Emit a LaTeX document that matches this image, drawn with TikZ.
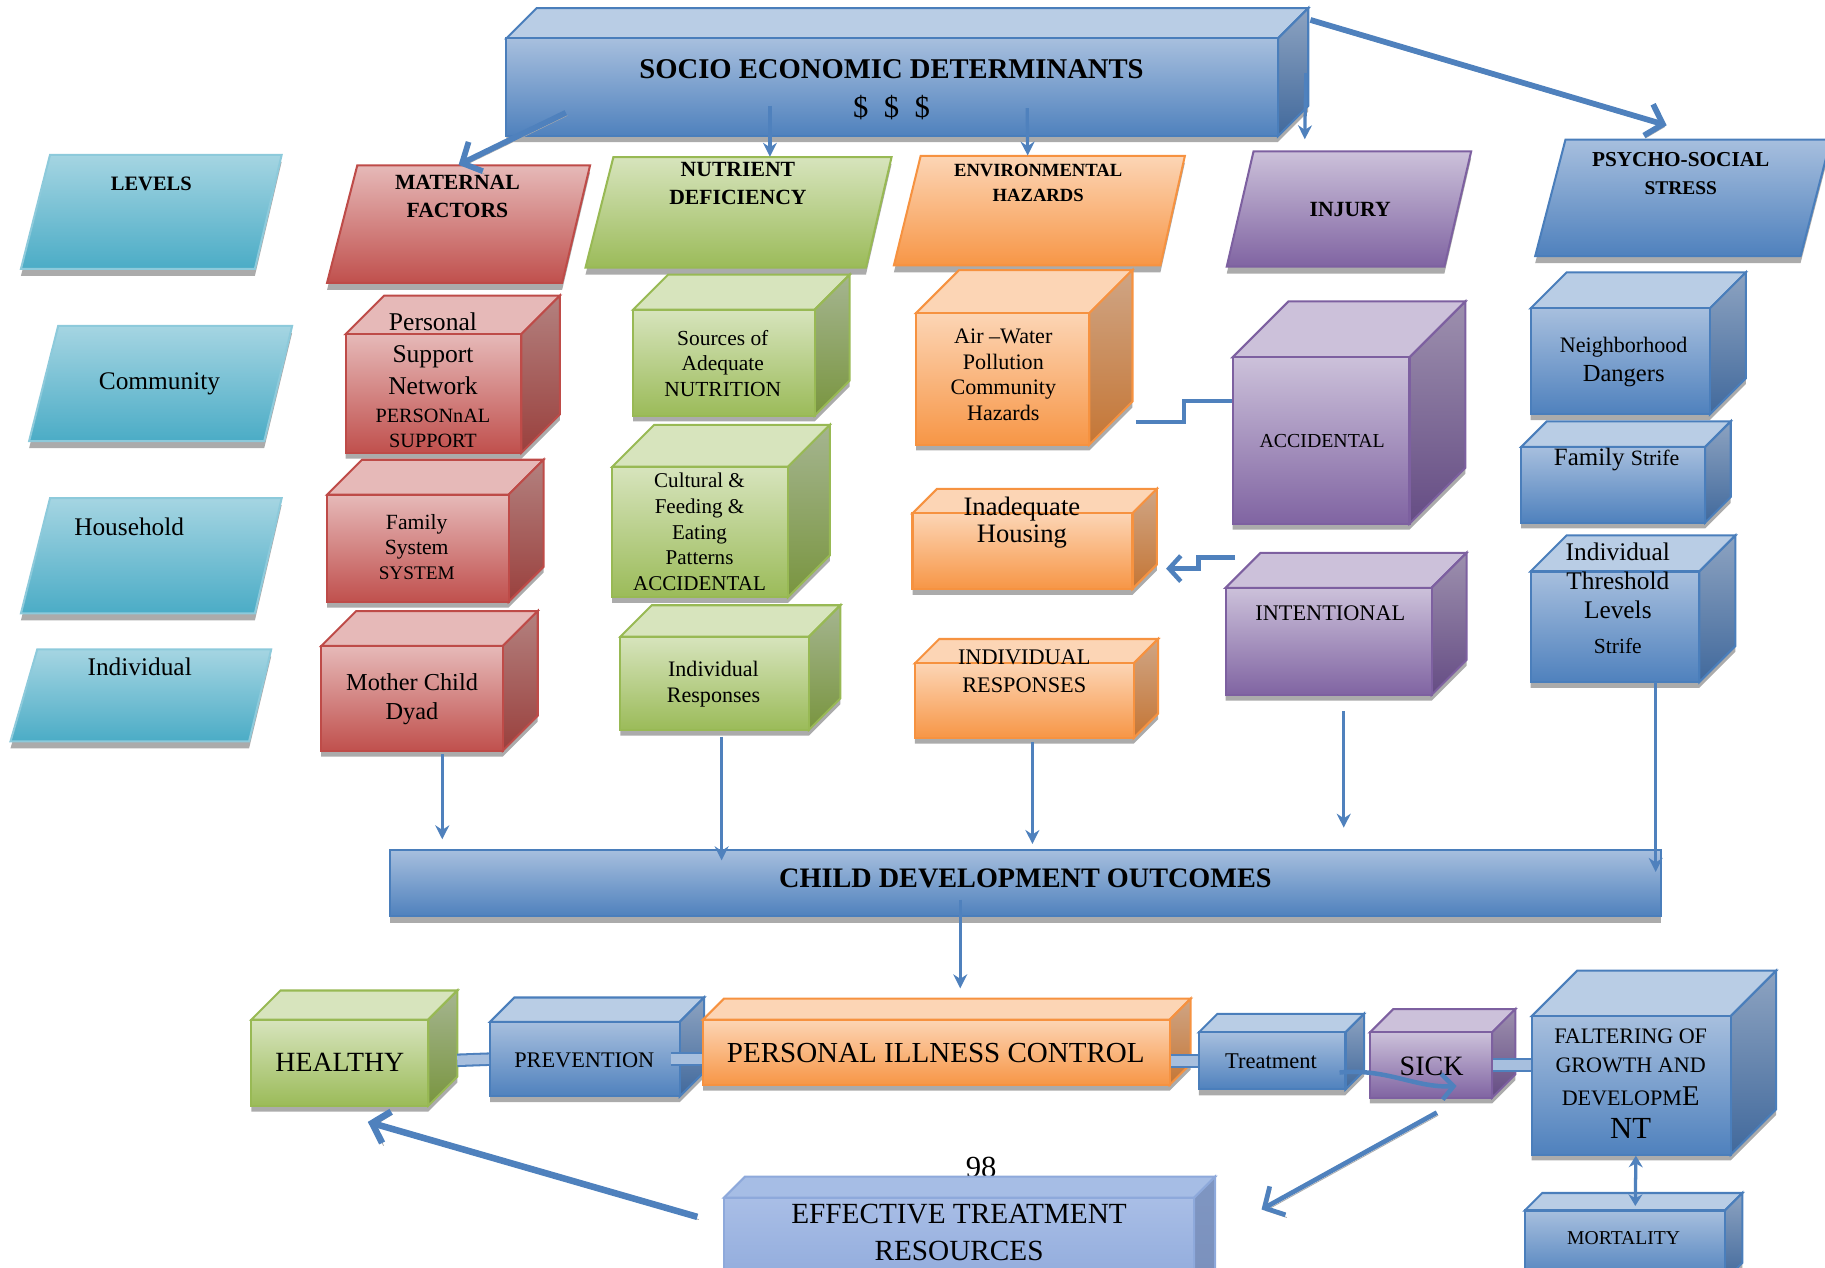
\documentclass[tikz,border=0pt]{standalone}
\usepackage{fontspec}
\setmainfont{Liberation Serif}
\usetikzlibrary{calc,fit,arrows.meta}

\newcommand{\fsz}[2]{\fontsize{#1}{#2}\selectfont}

% colour sets: A front top, B front bottom, T top face, S/R side face, L outline
\definecolor{blueA}{HTML}{A7BFDE}
\definecolor{blueB}{HTML}{4F81BD}
\definecolor{blueT}{HTML}{B9CDE5}
\definecolor{blueS}{HTML}{8DA3C1}
\definecolor{blueR}{HTML}{41699C}
\definecolor{blueL}{HTML}{4A7EBB}
\definecolor{redA}{HTML}{E6B9B8}
\definecolor{redB}{HTML}{C0504D}
\definecolor{redT}{HTML}{E6B9B8}
\definecolor{redS}{HTML}{B3817F}
\definecolor{redR}{HTML}{9A403D}
\definecolor{redL}{HTML}{BE4B48}
\definecolor{greenA}{HTML}{D7E4BD}
\definecolor{greenB}{HTML}{9BBB59}
\definecolor{greenT}{HTML}{D7E4BD}
\definecolor{greenS}{HTML}{A5B590}
\definecolor{greenR}{HTML}{79953F}
\definecolor{greenL}{HTML}{98B954}
\definecolor{orangeA}{HTML}{FCD5B5}
\definecolor{orangeB}{HTML}{F79646}
\definecolor{orangeT}{HTML}{FCD5B5}
\definecolor{orangeS}{HTML}{CFA585}
\definecolor{orangeR}{HTML}{C57635}
\definecolor{orangeL}{HTML}{F69240}
\definecolor{purpleA}{HTML}{CCC1DA}
\definecolor{purpleB}{HTML}{8064A2}
\definecolor{purpleT}{HTML}{CCC1DA}
\definecolor{purpleS}{HTML}{9D90AE}
\definecolor{purpleR}{HTML}{654C84}
\definecolor{purpleL}{HTML}{7D60A0}
\definecolor{cyanA}{HTML}{A5D5E2}
\definecolor{cyanB}{HTML}{4BACC6}
\definecolor{cyanL}{HTML}{8DCADB}
\definecolor{lavA}{HTML}{A9BEE6}
\definecolor{lavB}{HTML}{8EA9DB}
\definecolor{lavT}{HTML}{A6BDE5}
\definecolor{lavS}{HTML}{7F96C2}
\definecolor{lavR}{HTML}{7A90BC}
\definecolor{lavL}{HTML}{8EA9DB}
\colorlet{dropgray}{black!33}

% 3d box: name, left, top, right, bottom, depth, colour set
\newcommand{\boxcube}[7]{%
  \fill[dropgray] (#2,#5+5) -- (#2,#3+5) -- (#2+#6,#3-#6+5) -- (#4+#6,#3-#6+5) -- (#4+#6,#5-#6+5) -- (#4,#5+5) -- cycle;
  \path[fill=#7T, draw=#7L, line width=1pt] (#2,#3) -- (#2+#6,#3-#6) -- (#4+#6,#3-#6) -- (#4,#3) -- cycle;
  \path[top color=#7S, bottom color=#7R, draw=#7L, line width=1pt] (#4,#3) -- (#4+#6,#3-#6) -- (#4+#6,#5-#6) -- (#4,#5) -- cycle;
  \node[fit={(#2,#3)(#4,#5)}, inner sep=0pt, top color=#7A, bottom color=#7B, draw=#7L, line width=1pt] (#1) {};
}
% slanted box: name, top left x, top right x, top y, bottom left x, bottom right x, bottom y, colour set
\newcommand{\slantbox}[8]{%
  \fill[dropgray] (#5,#7+6) -- (#2,#4+6) -- (#3,#4+6) -- (#6,#7+6) -- cycle;
  \path[top color=#8A, bottom color=#8B, draw=#8L, line width=1pt] (#5,#7) -- (#2,#4) -- (#3,#4) -- (#6,#7) -- cycle;
  \node[fit={(#5,#4)(#3,#7)}, inner sep=0pt] (#1) {};
}

\begin{document}
\begin{tikzpicture}[x=0.02cm, y=-0.02cm,
    txt/.style={align=center, inner sep=0pt},
    hd/.style={txt, font=\bfseries\fsz{10.6}{13.6}},
    lvl/.style={txt, font=\fsz{12.4}{14}},
    thinarr/.style={draw=blueB, line width=1.6pt, -{Stealth[length=2.4mm,width=2.4mm]}},
    fatarr/.style={draw=blueB, line width=2.8pt, -{Straight Barb[length=2.6mm,width=5.6mm]},
      preaction={draw=dropgray, transform canvas={shift={(0.7pt,-1.3pt)}}}},
    stepline/.style={draw=blueB, line width=2.2pt},
    tube/.style={draw=blueB, line width=1pt, double=blueA, double distance=4.6pt}]
\useasboundingbox (0,0) rectangle (1568,1089);
\clip (0,0) rectangle (1568,1089);

% top box
\boxcube{socio}{435}{33}{1098}{117}{26}{blue}
\node[txt, font=\bfseries\fsz{14}{17}] (socio-t) at (766,59) {SOCIO ECONOMIC DETERMINANTS};
\node[txt, font=\fsz{15}{17}] (socio-d) at (766,92) {\$\hspace{0.5em}\$\hspace{0.5em}\$};

% headings
\slantbox{lev}{43}{242}{133}{18}{219}{231}{cyan}
\slantbox{mat}{307}{507}{142}{281}{483}{243}{red}
\slantbox{nut}{527}{766}{135}{503}{744}{230}{green}
\slantbox{env}{791}{1018}{134}{768}{997}{228}{orange}
\slantbox{inj}{1077}{1264}{130}{1054}{1241}{229}{purple}
\slantbox{psy}{1345}{1573}{120}{1319}{1547}{220}{blue}
\node[hd, font=\bfseries\fsz{10}{12}] (lev-t) at (130,158) {LEVELS};
\node[hd] (mat-t) at (393,169) {MATERNAL\\FACTORS};
\node[hd] (nut-t) at (634,158) {NUTRIENT\\DEFICIENCY};
\node[hd, font=\bfseries\fsz{9.1}{12.5}] (env-t) at (892,157) {ENVIRONMENTAL\\HAZARDS};
\node[hd] (inj-t) at (1160,180) {INJURY};
\node[hd, font=\bfseries\fsz{10.4}{13.6}] (psy-t) at (1444,149) {PSYCHO-SOCIAL\\{\fsz{9.5}{13.6}STRESS}};

% levels
\slantbox{com}{50}{251}{280}{25}{227}{379}{cyan}
\slantbox{hou}{43}{242}{428}{18}{219}{527}{cyan}
\slantbox{ind}{32}{233}{558}{9}{214}{637}{cyan}
\node[lvl] (com-t) at (137,330) {Community};
\node[lvl] (hou-t) at (111,453) {Household};
\node[lvl] (ind-t) at (120,573) {Individual};

% maternal factors
\boxcube{pers}{297}{287}{448}{389}{33}{red}
\boxcube{fam}{281}{425}{437}{517}{30}{red}
\boxcube{mcd}{276}{555}{432}{645}{30}{red}
\node[txt, font=\fsz{12.5}{15.5}] (pers-t) at (372,304) {Personal\\Support\\Network};
\node[txt, font=\fsz{9.9}{12.5}] (pers-u) at (372,368) {PERSONnAL\\SUPPORT};
\node[txt, font=\fsz{10.6}{12.2}] (fam-t) at (358,470) {Family\\System\\{\fsz{9.4}{12.2}SYSTEM}};
\node[txt, font=\fsz{11.9}{14.2}] (mcd-t) at (354,601) {Mother Child\\Dyad};

% nutrient deficiency
\boxcube{src}{544}{266}{700}{357}{30}{green}
\boxcube{cult}{526}{401}{677}{513}{36}{green}
\boxcube{indg}{533}{547}{695}{627}{27}{green}
\node[txt, font=\fsz{10.5}{12.5}] (src-t) at (621,312) {Sources of\\Adequate\\NUTRITION};
\node[txt, font=\fsz{10.3}{12.5}] (cult-t) at (601,457) {Cultural \&\\Feeding \&\\Eating\\Patterns\\ACCIDENTAL};
\node[txt, font=\fsz{10.8}{12.5}] (indg-t) at (613,588) {Individual\\Responses};

% environmental hazards
\boxcube{air}{787}{269}{936}{382}{37}{orange}
\boxcube{hous}{784}{441}{973}{506}{21}{orange}
\boxcube{indo}{786}{570}{974}{634}{21}{orange}
\node[txt, font=\fsz{10.8}{12.5}] (air-t) at (862,322) {Air –Water\\Pollution\\Community\\Hazards};
\node[txt, font=\fsz{13}{13.6}] (hous-t) at (878,449) {Inadequate\\Housing};
\node[txt, font=\fsz{10.9}{13.6}] (indo-t) at (880,577) {INDIVIDUAL\\RESPONSES};

% injury
\boxcube{acc}{1059}{307}{1211}{450}{48}{purple}
\boxcube{int}{1053}{505}{1230}{597}{30}{purple}
\node[txt, font=\fsz{9.7}{12}] (acc-t) at (1136,379) {ACCIDENTAL};
\node[txt, font=\fsz{10.9}{12}] (int-t) at (1143,527) {INTENTIONAL};

% psycho-social stress
\boxcube{nbr}{1315}{265}{1469}{356}{31}{blue}
\boxcube{fstr}{1307}{384}{1465}{449}{22}{blue}
\boxcube{ithr}{1315}{491}{1460}{586}{31}{blue}
\node[txt, font=\fsz{10.8}{14.2}] (nbr-t) at (1395,311) {Neighborhood\\{\fsz{12}{14.2}Dangers}};
\node[txt, font=\fsz{12.2}{14}] (fstr-t) at (1389,395) {Family {\fsz{10.7}{14}Strife}};
\node[txt, font=\fsz{12.4}{14.2}] (ithr-t) at (1390,514) {Individual\\Threshold\\Levels\\[3pt]{\fsz{10.5}{14.2}Strife}};

% outcomes bar
\fill[dropgray] (335,735) rectangle (1427,793);
\node[fit={(335,730)(1427,787)}, inner sep=0pt, top color=blueA, bottom color=blueB, draw=blueL, line width=1pt] (cdo) {};
\node[txt, font=\bfseries\fsz{13.8}{16}] (cdo-t) at (881,755) {CHILD DEVELOPMENT OUTCOMES};

% bottom row
\boxcube{hlt}{216}{876}{368}{950}{25}{green}
\boxcube{prev}{421}{878}{584}{942}{21}{blue}
\boxcube{pic}{604}{876}{1005}{932}{18}{orange}
\boxcube{treat}{1030}{887}{1156}{936}{16}{blue}
\boxcube{sick}{1177}{887}{1282}{943}{20}{purple}
\boxcube{falt}{1316}{873}{1487}{992}{39}{blue}
\boxcube{mort}{1310}{1040}{1482}{1100}{15}{blue}
\node[txt, font=\fsz{15}{17}] (pnum) at (843,1003) {98};
\boxcube{eff}{622}{1029}{1026}{1110}{18}{lav}
\node[txt, font=\fsz{13.6}{16}] (hlt-t) at (292,913) {HEALTHY};
\node[txt, font=\fsz{10.9}{13}] (prev-t) at (502,911) {PREVENTION};
\node[txt, font=\fsz{14.2}{16}] (pic-t) at (804,905) {PERSONAL ILLNESS CONTROL};
\node[txt, font=\fsz{11}{13}] (treat-t) at (1092,912) {Treatment};
\node[txt, font=\fsz{13.7}{16}] (sick-t) at (1230,916) {SICK};
\node[txt, font=\fsz{10.8}{14.2}] (falt-t) at (1401,931) {FALTERING OF\\GROWTH AND\\[2pt]DEVELOPM{\fsz{14}{14.2}E}\\[2pt]{\fsz{15}{14.2}NT}};
\node[txt, font=\fsz{9.6}{12}] (mort-t) at (1395,1064) {MORTALITY};
\node[txt, font=\fsz{14.3}{18.1}] (eff-t) at (824,1059) {EFFECTIVE TREATMENT\\RESOURCES};

% arrows from the top box
\draw[fatarr] ($(socio.south west)+(52,-21)$) -- (mat.north);
\draw[thinarr] ($(socio.south)+(-105,-27)$) -- ($(nut.north)+(27,0)$);
\draw[thinarr] ($(socio.south)+(116,-25)$) -- ($(env.north)+(-10,0)$);
\draw[thinarr] ($(socio.south east)+(23,-55)$) -- ($(inj.north)+(-38,-10)$);
\draw[fatarr] ($(socio.north east)+(27,-15)$) -- ($(psy.north)+(-14,-12)$);

% links to the injury boxes
\draw[stepline] ($(air.east)+(39,37)$) -| ($(acc.west)+(-41,-34)$) -- ($(acc.west)+(0,-34)$);
\draw[stepline, -{Straight Barb[length=2mm,width=4.4mm]}] ($(int.west)+(9,-72)$) -| ($(hous.east)+(56,15)$) -- ($(hous.east)+(28,15)$);

% down to the outcomes
\coordinate (m1) at ($(mcd.south)+(26,2)$);
\coordinate (g1) at ($(indg.south)+(6,5)$);
\coordinate (o1) at ($(indo.south)+(7,3)$);
\coordinate (i1) at ($(int.south)+(13,13)$);
\coordinate (t1) at ($(ithr.south)+(35,-1)$);
\coordinate (c1) at ($(cdo.south)+(-56,-15)$);
\draw[thinarr] (m1) -- ($(m1 |- cdo.north)+(0,-8)$);
\draw[thinarr] (g1) -- ($(g1 |- cdo.north)+(0,10)$);
\draw[thinarr] (o1) -- ($(o1 |- cdo.north)+(0,-4)$);
\draw[thinarr] (i1) -- ($(i1 |- cdo.north)+(0,-18)$);
\draw[thinarr] (t1) -- ($(t1 |- cdo.north)+(0,20)$);
\draw[thinarr] (c1) -- ($(c1 |- pic.north)+(0,-26)$);

% bottom row links
\draw[tube] ($(hlt.east)+(24,-2)$) -- (prev.west);
\draw[tube] ($(prev.east)+(-8,0)$) -- (pic.west |- prev.east);
\draw[tube] (pic.east |- treat.west) -- (treat.west);
\draw[tube] (sick.east) -- (falt.west |- sick.east);
\draw[draw=blueB, line width=2.2pt, -{Straight Barb[length=2mm,width=4.4mm]}] ($(treat.east)+(-6,10)$) .. controls +(40,-4) and +(-35,2) .. ($(sick.center)+(22,18)$);
\draw[draw=blueB, line width=1.6pt, {Stealth[length=2mm,width=2.4mm]}-{Stealth[length=2mm,width=2.4mm]}] ($(falt.south)+(4,0)$) -- ($(mort.north)+(9,-3)$);
\draw[fatarr, line width=2.3pt] ($(sick.south)+(5,12)$) -- ($(eff.north east)+(57,11)$);
\draw[fatarr, line width=3.2pt] ($(eff.west)+(-22,-24)$) -- ($(hlt.south)+(24,13)$);
\end{tikzpicture}
\end{document}
